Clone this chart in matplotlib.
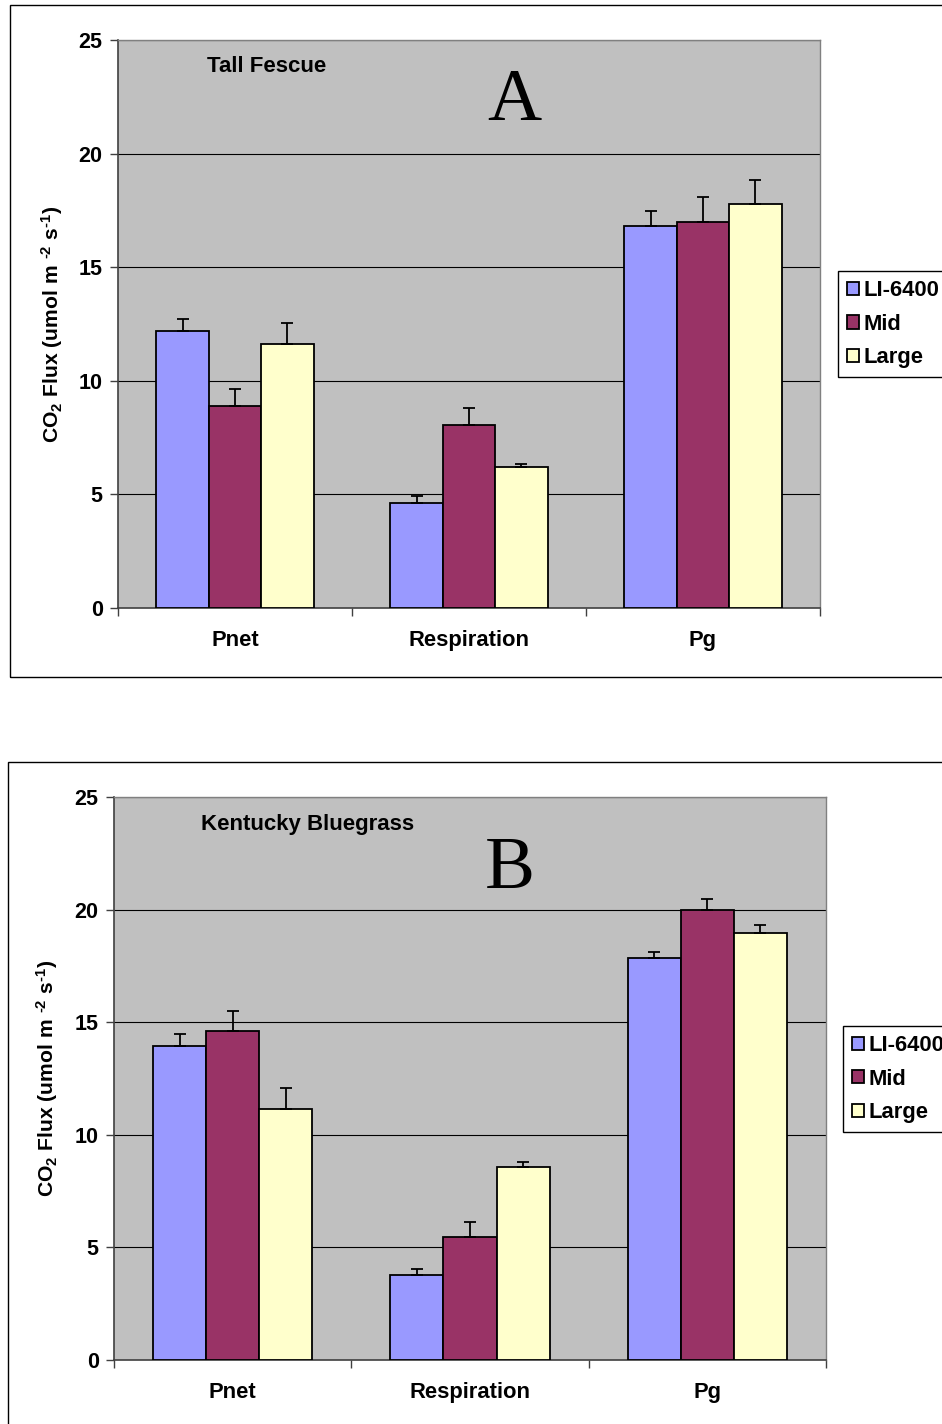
import matplotlib
matplotlib.use("Agg")
import matplotlib.pyplot as plt
import numpy as np
from matplotlib.patches import Rectangle

plt.rcParams['font.family'] = ['Liberation Sans', 'DejaVu Sans']
plt.rcParams['mathtext.fontset'] = 'custom'
plt.rcParams['mathtext.rm'] = 'Liberation Sans:bold'
plt.rcParams['mathtext.bf'] = 'Liberation Sans:bold'
plt.rcParams['mathtext.it'] = 'Liberation Sans:bold'
plt.rcParams['mathtext.default'] = 'bf'

categories = ["Pnet", "Respiration", "Pg"]
series = ["LI-6400", "Mid", "Large"]
colors = ["#9999FF", "#993366", "#FFFFCC"]

# Panel A: Tall Fescue
fescue_means = {
    "LI-6400": [12.2, 4.6, 16.8],
    "Mid": [8.9, 8.05, 17.0],
    "Large": [11.6, 6.2, 17.8],
}
fescue_err = {
    "LI-6400": [0.5, 0.33, 0.66],
    "Mid": [0.75, 0.75, 1.1],
    "Large": [0.95, 0.15, 1.03],
}

# Panel B: Kentucky Bluegrass
bluegrass_means = {
    "LI-6400": [13.95, 3.77, 17.85],
    "Mid": [14.6, 5.45, 20.0],
    "Large": [11.15, 8.55, 18.95],
}
bluegrass_err = {
    "LI-6400": [0.53, 0.28, 0.25],
    "Mid": [0.9, 0.67, 0.46],
    "Large": [0.94, 0.24, 0.38],
}

yticks = [0, 5, 10, 15, 20, 25]

W, H = 942, 1424
fig = plt.figure(figsize=(W / 100, H / 100), dpi=100)

# outer chart frames
fig.patches.append(Rectangle((10 / W, 1 - 677 / H), 1.0, 672 / H,
                             transform=fig.transFigure, fill=False,
                             edgecolor='black', linewidth=1.0))
fig.patches.append(Rectangle((8 / W, -0.05), 1.0, 1 - 762 / H + 0.05,
                             transform=fig.transFigure, fill=False,
                             edgecolor='black', linewidth=1.0))

ylabel_text = r"CO$_{2}$ Flux (umol m $^{\text{-2}}$ s$^{\text{-1}}$)"


def draw(ax, means, errs, title, letter, title_xy, letter_xy, leg_anchor, ylab_x):
    x = np.arange(len(categories))
    width = 0.224
    ax.set_facecolor("#C0C0C0")
    for yv in yticks[1:]:
        ax.axhline(yv, color='black', linewidth=0.8, zorder=1)
    for i, s in enumerate(series):
        pos = x + (i - 1) * width
        ax.bar(pos, means[s], width=width, color=colors[i], edgecolor='black',
               linewidth=1.3, zorder=3, label=s)
        ax.errorbar(pos, means[s], yerr=[np.zeros(len(categories)), errs[s]],
                    fmt='none', ecolor='black', elinewidth=1.3, capsize=4.5,
                    capthick=1.3, zorder=4)
    ax.set_xlim(-0.5, 2.5)
    ax.set_ylim(0, 25)
    ax.set_yticks(yticks)
    ax.set_yticklabels([str(v) for v in yticks], fontsize=15.5, fontweight='bold')
    ax.set_xticks(x)
    ax.set_xticklabels(categories, fontsize=15.8, fontweight='bold')
    ax.set_xticks(np.arange(-0.5, 3.0, 1.0), minor=True)
    ax.tick_params(axis='x', which='major', length=0, pad=16)
    ax.tick_params(axis='x', which='minor', length=6, width=1, color='#404040')
    ax.tick_params(axis='y', which='major', length=6, width=1, color='#404040', pad=5)
    for sp in ['left', 'bottom']:
        ax.spines[sp].set_color('#404040')
        ax.spines[sp].set_linewidth(1.2)
    for sp in ['top', 'right']:
        ax.spines[sp].set_color('#808080')
        ax.spines[sp].set_linewidth(1.0)
    ax.set_ylabel(ylabel_text, fontsize=15.2, fontweight='bold')
    ax.yaxis.set_label_coords(ylab_x, 0.5)
    ax.text(title_xy[0], title_xy[1], title, transform=ax.transAxes,
            fontsize=16, fontweight='bold', ha='left', va='center')
    ax.text(letter_xy[0], letter_xy[1], letter, transform=ax.transAxes,
            fontsize=54, family='Liberation Serif', ha='center', va='center')
    leg = ax.legend(loc='upper left', bbox_to_anchor=leg_anchor, borderaxespad=0,
                    fancybox=False, edgecolor='black', framealpha=1,
                    prop={'weight': 'bold', 'size': 15.8},
                    handlelength=0.55, handleheight=0.55, handletextpad=0.2,
                    labelspacing=0.58, borderpad=0.4)
    leg.get_frame().set_linewidth(1.0)


axA = fig.add_axes([118 / W, 1 - 608 / H, 702 / W, 568 / H])
draw(axA, fescue_means, fescue_err, "Tall Fescue", "A",
     (0.127, 0.954), (0.564, 0.891), (1.0256, 0.593), -0.0755)

axB = fig.add_axes([114 / W, 1 - 1360 / H, 712 / W, 563 / H])
draw(axB, bluegrass_means, bluegrass_err, "Kentucky Bluegrass", "B",
     (0.122, 0.952), (0.556, 0.870), (1.024, 0.593), -0.076)

fig.savefig("out.png", dpi=100)
